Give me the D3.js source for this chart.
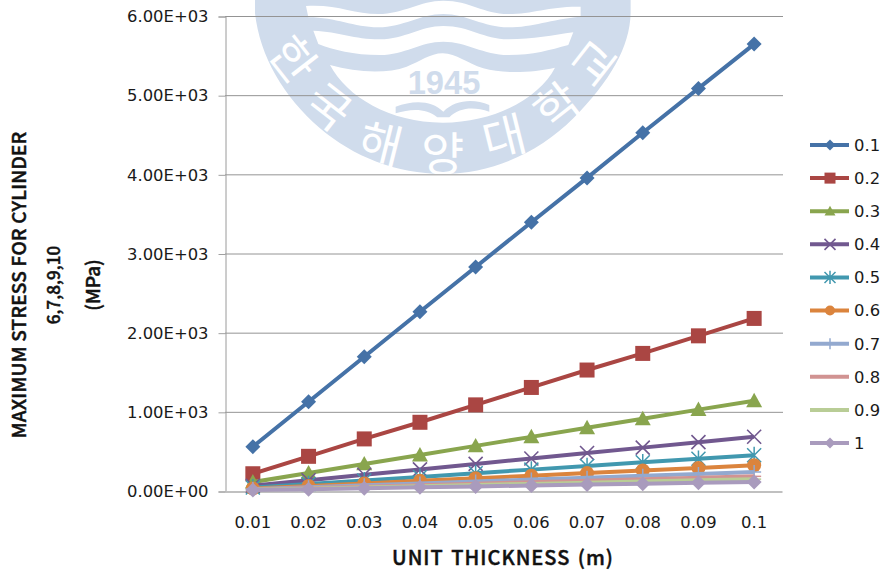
<!DOCTYPE html>
<html><head><meta charset="utf-8">
<script src="https://cdn.jsdelivr.net/npm/d3@7"></script>
<style>html,body{margin:0;padding:0;background:#fff}svg{display:block}</style></head>
<body><svg id="c" width="884" height="572"></svg>
<script>
const categories = ["0.01","0.02","0.03","0.04","0.05","0.06","0.07","0.08","0.09","0.1"];
const seriesNames = ["0.1","0.2","0.3","0.4","0.5","0.6","0.7","0.8","0.9","1"];
const s01 = [560,1128,1695,2265,2830,3395,3955,4525,5085,5645];
const s02 = [218,438,658,868,1088,1308,1528,1738,1960,2180];
const s03 = [113,228,342,455,570,684,798,912,1028,1140];
const s04 = [67,136,205,273,342,410,480,548,617,685];
const s05 = [44,88,133,178,225,270,315,362,407,452];
const s06 = [32,64,96,128,161,194,226,259,292,325];
const s07 = [24,48,72,96,120,144,168,192,216,240];
const s08 = [18,37,55,74,92,111,129,148,166,185];
const s09 = [15,30,45,60,75,90,105,120,135,150];
const s10 = [12,23,35,46,58,69,81,92,104,115];
const allSeries = [s01,s02,s03,s04,s05,s06,s07,s08,s09,s10];
const colors = ["#4572a7","#aa4643","#89a54e","#71588f","#4198af","#db843d","#93a9cf","#d19392","#b9cd96","#a99bbd"];
const markers = ["diamond","square","triangle","x","star","circle","plus","none","none","diamond"];
const yTicks = [0,1000,2000,3000,4000,5000,6000];
const sealChars = ["한","국","해","양","대","학","교"];
const sealCharPos = [[168,172,52],[272,312,38],[425,422,14],[608,452,0],[790,402,-14],[945,310,-38],[1055,182,-52]];

const svg = d3.select("#c");
const plotL=225,plotR=783,plotT=16,plotB=491;
const font="'DejaVu Sans',sans-serif", titleFont="'Noto Sans CJK KR','Noto Sans',sans-serif";
const x=d3.scaleBand().domain(categories).range([plotL,plotR-1]);
const y=d3.scaleLinear().domain([0,6000]).range([plotB,plotT]);
const cx=c=>x(c)+x.bandwidth()/2;

// watermark seal
const seal=svg.append("g").attr("transform","translate(240,0) scale(0.3333)");
const sealBlue="#d0dcec";
seal.append("path").attr("fill",sealBlue)
  .attr("d","M45,0 L45,40 C60,170 130,290 240,385 C340,470 470,522 608,522 C760,522 900,455 1000,355 C1110,245 1170,140 1172,40 L1172,0 Z");
seal.append("g").attr("fill","#fff").selectAll("path").data([
 "M198,18 C290,12 340,42 415,42 C490,42 540,2 610,2 C690,2 730,42 805,42 C880,42 930,18 1022,20 L1022,50 C930,58 880,82 805,82 C730,82 680,42 610,42 C540,42 490,82 415,82 C340,82 290,52 205,52 Z",
 "M220,92 C300,95 340,118 420,118 C495,118 540,78 610,78 C690,78 730,118 805,118 C880,118 940,105 1000,97 L985,135 C930,150 880,165 805,165 C730,165 680,125 610,125 C540,125 495,165 420,165 C340,165 280,150 235,132 Z",
 "M270,195 C350,218 440,222 500,200 C540,185 570,160 608,160 C650,160 680,190 730,205 C790,222 880,218 945,203 C900,290 770,368 608,368 C450,368 320,290 270,195 Z"
]).join("path").attr("d",d=>d);
seal.append("text").text("1945").attr("x",612).attr("y",283).attr("text-anchor","middle")
  .attr("font-family","'Liberation Sans',sans-serif").attr("font-weight",700).attr("font-size",98).attr("fill",sealBlue);
seal.append("path").attr("fill",sealBlue)
  .attr("d","M467,320 C520,300 575,300 610,335 C645,300 700,295 748,315 L748,335 C700,320 660,322 628,352 L592,352 C560,325 515,325 467,340 Z");
seal.append("g").selectAll("text").data(sealChars).join("text").text(d=>d)
  .attr("text-anchor","middle").attr("dominant-baseline","central")
  .attr("font-family","'Noto Sans CJK KR',sans-serif").attr("font-weight",400)
  .attr("font-size",140).attr("fill","#fff")
  .attr("transform",(d,i)=>`translate(${sealCharPos[i][0]},${sealCharPos[i][1]}) rotate(${sealCharPos[i][2]})`);

// grid
svg.append("g").selectAll("line").data(yTicks.filter(d=>d>0)).join("line")
  .attr("x1",plotL).attr("x2",plotR).attr("y1",d=>y(d)+.5).attr("y2",d=>y(d)+.5)
  .attr("stroke","#949494").attr("stroke-width",1);

// axes
const yAxis=d3.axisLeft(y).tickValues(yTicks).tickSize(7).tickPadding(10)
  .tickFormat(d=>{const e=d.toExponential(2).split("e");return e[0]+"E+"+String(+e[1]).padStart(2,"0");});
const gy=svg.append("g").attr("transform",`translate(${plotL+.5},.5)`).call(yAxis);
gy.select(".domain").attr("stroke","#9a9a9a");
gy.selectAll(".tick line").attr("stroke","#a0a0a0");
const xAxis=d3.axisBottom(x).tickSize(0).tickPadding(25);
const gx=svg.append("g").attr("transform",`translate(0,${plotB+.5})`).call(xAxis);
gx.select(".domain").attr("stroke","#c0c0c0").attr("stroke-width",2);
svg.selectAll(".tick text").attr("font-family",font).attr("font-size",16.4).attr("fill","#1a1a1a");

// markers
function drawMarker(g,type,c,r){
  if(type==="diamond") g.append("path").attr("d",`M0,${-r}L${r},0L0,${r}L${-r},0Z`).attr("fill",c);
  else if(type==="square") g.append("rect").attr("x",-r+.5).attr("y",-r+.5).attr("width",2*r-1).attr("height",2*r-1).attr("fill",c);
  else if(type==="triangle") g.append("path").attr("d",`M0,${-r}L${r},${r*.8}L${-r},${r*.8}Z`).attr("fill",c);
  else if(type==="circle") g.append("circle").attr("r",r-.5).attr("fill",c);
  else if(type==="x") g.append("path").attr("d",`M${-r},${-r}L${r},${r}M${-r},${r}L${r},${-r}`).attr("stroke",c).attr("stroke-width",1.6).attr("fill","none");
  else if(type==="star") g.append("path").attr("d",`M${-r},${-r}L${r},${r}M${-r},${r}L${r},${-r}M0,${-r*1.2}L0,${r*1.2}`).attr("stroke",c).attr("stroke-width",1.5).attr("fill","none");
  else if(type==="plus") g.append("path").attr("d",`M${-r},0L${r},0M0,${-r}L0,${r}`).attr("stroke",c).attr("stroke-width",1.5).attr("fill","none");
  else if(type==="none") g.append("path").attr("d",`M${-r},0L${r},0`).attr("stroke",c).attr("stroke-width",1.5);
}
const line=d3.line().x((d,i)=>cx(categories[i])).y(d=>y(d));
const sizes=[7.5,8,8,7,7,7.5,7,7,7,7.5];
allSeries.forEach((vals,k)=>{
  const g=svg.append("g");
  g.append("path").attr("d",line(vals)).attr("fill","none").attr("stroke",colors[k]).attr("stroke-width",4).attr("stroke-linejoin","round");
  vals.forEach((v,i)=>{
    const m=g.append("g").attr("transform",`translate(${cx(categories[i])},${y(v)})`);
    drawMarker(m,markers[k],colors[k],sizes[k]);
  });
});

// legend
const ly=d3.scalePoint().domain(seriesNames).range([145,443]);
seriesNames.forEach((n,k)=>{
  const g=svg.append("g").attr("transform",`translate(0,${ly(n)})`);
  g.append("line").attr("x1",810).attr("x2",849).attr("stroke",colors[k]).attr("stroke-width",4);
  const m=g.append("g").attr("transform","translate(830,0)");
  drawMarker(m,markers[k],colors[k],markers[k]==="square"?6:5.5);
  g.append("text").attr("x",854).attr("y",0).attr("dy","0.36em").text(n)
    .attr("font-family",font).attr("font-size",16.4).attr("fill","#1a1a1a");
});

// titles
svg.append("text").attr("x",503).attr("y",565).attr("text-anchor","middle").text("UNIT THICKNESS (m)")
  .attr("font-family",titleFont).attr("font-weight",500).attr("font-size",20)
  .attr("letter-spacing",1).attr("word-spacing",2).attr("fill","#111")
  .attr("stroke","#111").attr("stroke-width",.45);
[["MAXIMUM STRESS FOR CYLINDER",17,19,.25],["6,7,8,9,10",52,17,0],["(MPa)",91,19,0]].forEach(([t,tx,fs,ls])=>{
  svg.append("text").attr("transform",`translate(${tx},285) rotate(-90)`)
    .attr("text-anchor","middle").attr("dominant-baseline","central").text(t)
    .attr("font-family",titleFont).attr("font-weight",500).attr("font-size",fs)
    .attr("letter-spacing",ls).attr("fill","#111")
    .attr("stroke","#111").attr("stroke-width",.45);
});
</script></body></html>
